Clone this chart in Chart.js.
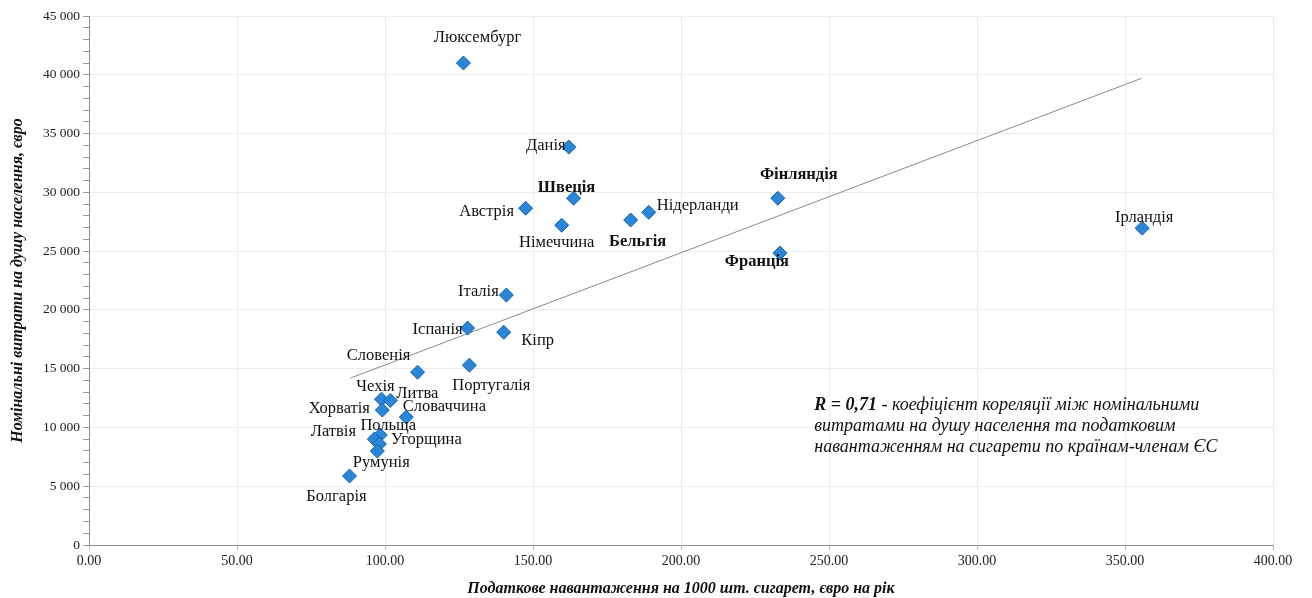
<!DOCTYPE html>
<html>
<head>
<meta charset="utf-8">
<script src="https://cdn.jsdelivr.net/npm/chart.js@4/dist/chart.umd.min.js"></script>
<style>
  body { margin: 0; background: #fff; }
  #wrap { width: 1312px; height: 598px; }
</style>
</head>
<body>
<div id="wrap"><canvas id="taxChart"></canvas></div>
<script>
// Countries and values
const countries = ['Люксембург', 'Данія', 'Швеція', 'Австрія', 'Німеччина', 'Бельгія', 'Нідерланди',
    'Фінляндія', 'Франція', 'Ірландія', 'Італія', 'Іспанія', 'Кіпр', 'Словенія', 'Португалія',
    'Чехія', 'Литва', 'Хорватія', 'Словаччина', 'Польща', 'Латвія', 'Угорщина', 'Румунія', 'Болгарія'];
// tax burden per 1000 cigarettes, euro per year
const taxLoad = [126.5, 162.1, 163.7, 147.5, 159.7, 183.0, 189.1,
    232.7, 233.4, 355.8, 141.0, 127.9, 140.1, 111.0, 128.5,
    98.8, 101.8, 99.1, 107.2, 98.4, 96.4, 98.1, 97.4, 88.0];
// nominal spending per capita, euro
const spending = [41000, 33850, 29500, 28650, 27200, 27650, 28300,
    29500, 24830, 26950, 21260, 18450, 18100, 14700, 15300,
    12400, 12300, 11480, 10880, 9350, 9010, 8590, 7990, 5870];
// linear trend line ends
const trendX = [88.3, 355.6];
const trendY = [14200, 39700];

const xTicks = [0, 50, 100, 150, 200, 250, 300, 350, 400];
const yMajorStep = 5000;

const noteBold = 'R = 0,71';
const noteLines = [' - коефіцієнт кореляції між номінальними',
    'витратами на душу населення та податковим',
    'навантаженням на сигарети по країнам-членам ЄС'];

// label placement around each point (px), in the same order as countries
const labelOffsets = [[14, -25], [-23, -1], [-7, -10], [-39, 3], [-5, 17], [7, 22], [49, -7],
    [21, -23], [-23, 9], [2, -11], [-28, -3], [-30, 2], [34, 8], [-39, -17], [22, 21],
    [-6, -13], [27, -7], [-43, -1], [38, -10], [8, -9], [-41, -7], [47, -4], [4, 12], [-13, 21]];
const boldLabels = ['Фінляндія', 'Франція', 'Бельгія', 'Швеція'];

const serif = '"Liberation Serif", "Times New Roman", serif';

function fmtThousands(v) {
    return String(v).replace(/\B(?=(\d{3})+(?!\d))/g, ' ');
}

const labelPlugin = {
    id: 'pointLabels',
    afterDatasetsDraw(chart) {
        const ctx = chart.ctx;
        const meta = chart.getDatasetMeta(0);
        ctx.save();
        ctx.fillStyle = '#111';
        ctx.textAlign = 'center';
        ctx.textBaseline = 'middle';
        meta.data.forEach((pt, i) => {
            const name = countries[i];
            const weight = boldLabels.includes(name) ? 'bold ' : '';
            ctx.font = weight + '16.5px ' + serif;
            ctx.fillText(name, pt.x + labelOffsets[i][0], pt.y + labelOffsets[i][1]);
        });

        // correlation note
        const xs = chart.scales.x, ys = chart.scales.y;
        const left = xs.getPixelForValue(245);
        const top = ys.getPixelForValue(11850);
        ctx.textAlign = 'left';
        ctx.font = 'bold italic 18px ' + serif;
        ctx.fillText(noteBold, left, top);
        const w = ctx.measureText(noteBold).width;
        ctx.font = 'italic 18px ' + serif;
        ctx.fillText(noteLines[0], left + w, top);
        ctx.fillText(noteLines[1], left, top + 21);
        ctx.fillText(noteLines[2], left, top + 42);
        ctx.restore();
    }
};

const scatterPoints = taxLoad.map((x, i) => ({ x: x, y: spending[i] }));
const trendPoints = trendX.map((x, i) => ({ x: x, y: trendY[i] }));

const ctx = document.getElementById('taxChart').getContext('2d');
new Chart(ctx, {
    type: 'scatter',
    data: {
        datasets: [
            {
                label: 'Країни',
                data: scatterPoints,
                pointStyle: 'rectRot',
                pointRadius: 7,
                pointHoverRadius: 7,
                backgroundColor: '#2a86d8',
                borderColor: '#145fa3',
                borderWidth: 1
            },
            {
                label: 'Тренд',
                type: 'line',
                data: trendPoints,
                borderColor: '#8a8a8a',
                borderWidth: 1,
                pointRadius: 0,
                fill: false
            }
        ]
    },
    options: {
        responsive: true,
        maintainAspectRatio: false,
        animation: false,
        layout: { padding: { top: 16, right: 39, left: 0, bottom: 0 } },
        plugins: {
            legend: { display: false },
            tooltip: { enabled: false }
        },
        scales: {
            x: {
                type: 'linear',
                min: 0,
                max: 400,
                afterBuildTicks: axis => { axis.ticks = xTicks.map(v => ({ value: v })); },
                afterFit: axis => { axis.height = 53; },
                border: { color: '#8c8c8c', width: 1 },
                grid: { color: '#ececec', tickColor: '#bdbdbd', tickLength: 5 },
                ticks: {
                    font: { family: serif, size: 14 },
                    color: '#222',
                    padding: 3,
                    maxRotation: 0,
                    callback: v => Number(v).toFixed(2)
                },
                title: {
                    display: true,
                    text: 'Податкове навантаження на 1000 шт. сигарет, євро на рік',
                    font: { family: serif, size: 16, weight: 'bold', style: 'italic' },
                    color: '#111',
                    padding: { top: 0, bottom: 0 }
                }
            },
            y: {
                min: 0,
                max: 45000,
                afterFit: axis => { axis.width = 89; },
                border: { color: '#8c8c8c', width: 1 },
                grid: {
                    color: c => (c.tick && c.tick.value % yMajorStep === 0) ? '#ececec' : 'rgba(0,0,0,0)',
                    tickColor: '#9a9a9a',
                    tickLength: 6
                },
                ticks: {
                    stepSize: 1000,
                    autoSkip: false,
                    font: { family: serif, size: 13.5 },
                    color: '#222',
                    padding: 3,
                    callback: v => (v % yMajorStep === 0) ? fmtThousands(v) : ''
                },
                title: {
                    display: true,
                    text: 'Номінальні витрати на душу населення, євро',
                    font: { family: serif, size: 16, weight: 'bold', style: 'italic' },
                    color: '#111',
                    padding: { top: 8, bottom: 2 }
                }
            }
        }
    },
    plugins: [labelPlugin]
});
</script>
</body>
</html>
